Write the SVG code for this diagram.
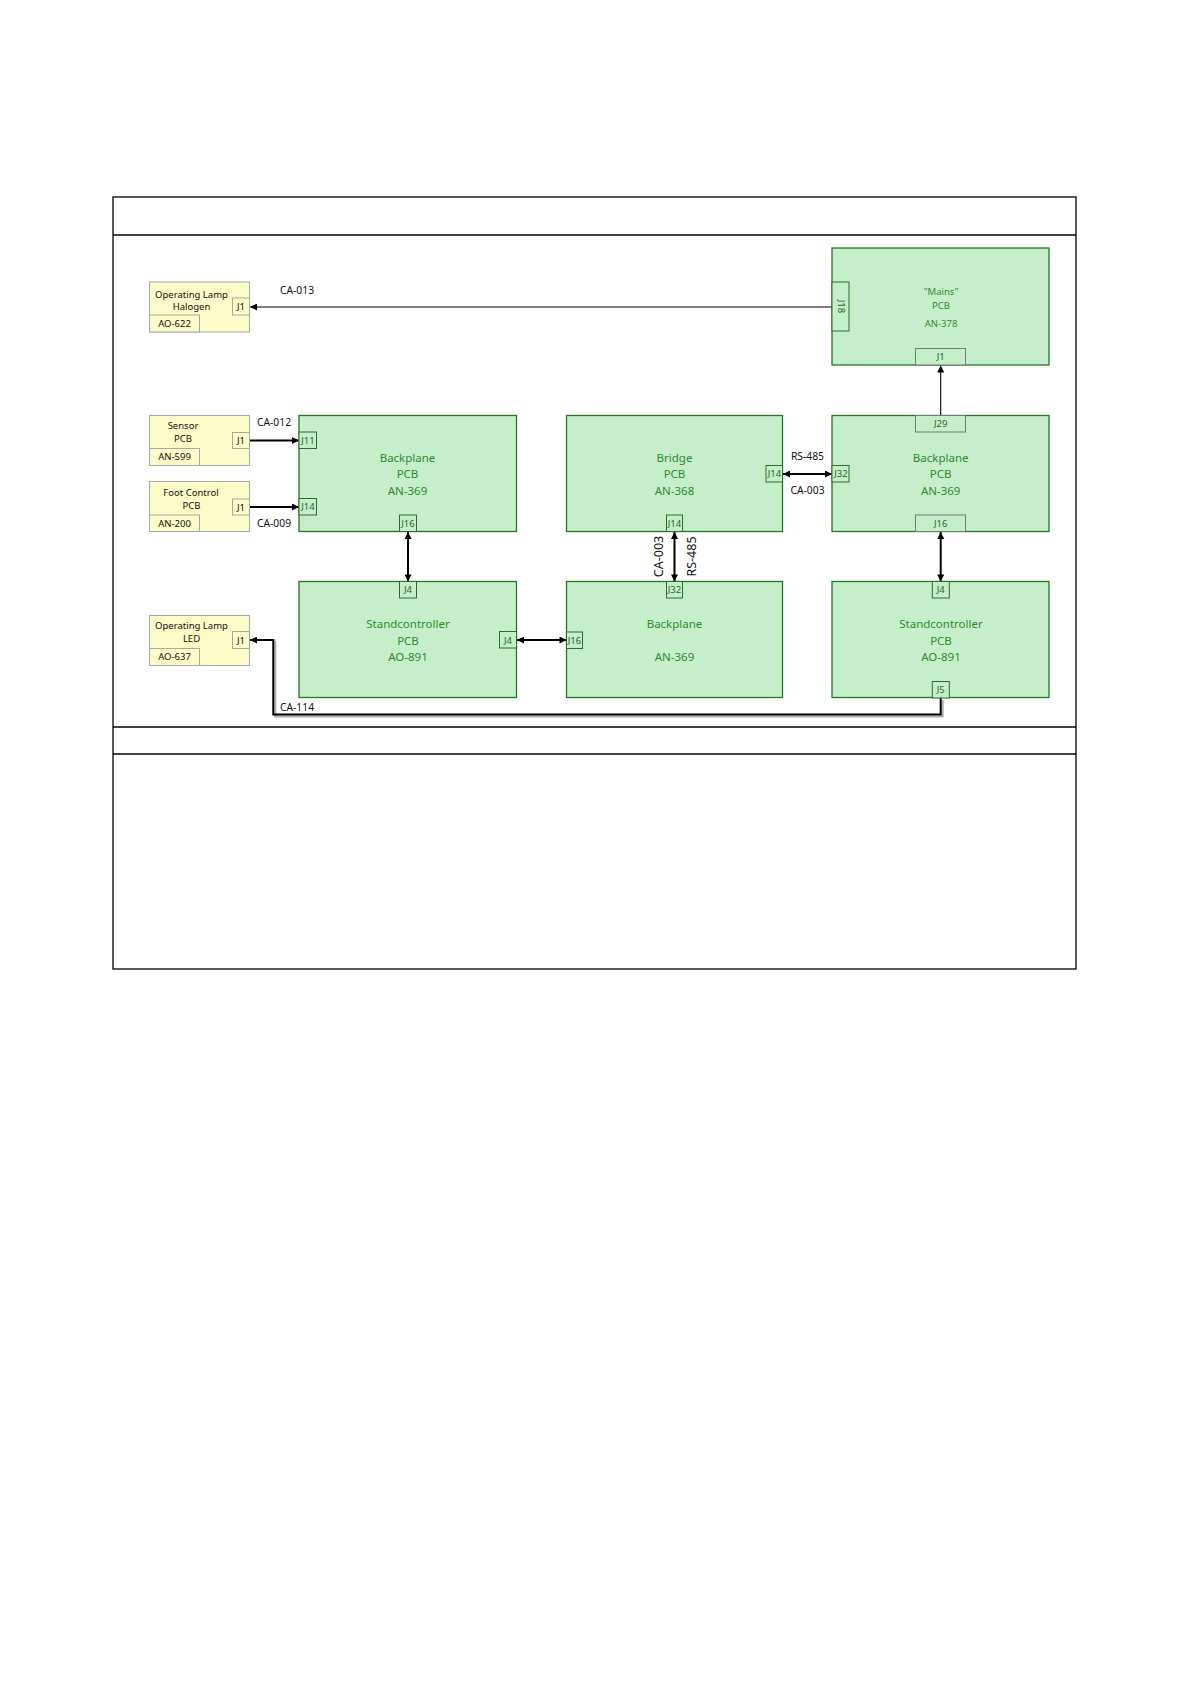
<svg xmlns="http://www.w3.org/2000/svg" width="1191" height="1684" viewBox="0 0 1191 1684">
<style>
.frame{fill:none;stroke:#000;stroke-width:1.3}
.ybox{fill:#fcfcc9;stroke:#a8a8a8;stroke-width:1}
.yport{fill:#fcfcc9;stroke:#a8a8a8;stroke-width:1}
.gbox{fill:#c6eecb;stroke:#1f7a1f;stroke-width:1.3}
.gport{fill:#c6eecb;stroke:#2a6e2a;stroke-width:1}
.gportw{fill:#c6eecb;stroke:#6f7f6f;stroke-width:1}
.yt{font-family:"Noto Sans","Open Sans",sans-serif;font-size:9.5px;fill:#111;text-anchor:middle}
.gt{font-family:"Noto Sans","Open Sans",sans-serif;font-size:11.5px;fill:#2f8a2f;text-anchor:middle}
.gts{font-family:"Noto Sans","Open Sans",sans-serif;font-size:9.5px;fill:#2f8a2f;text-anchor:middle}
.pt{font-family:"Noto Sans","Open Sans",sans-serif;font-size:9.5px;fill:#1f6a1f;text-anchor:middle}
.lbl{font-family:"Noto Sans","Open Sans",sans-serif;font-size:10.3px;fill:#111;text-anchor:middle}
.vlbl{font-family:"Noto Sans","Open Sans",sans-serif;font-size:12.5px;fill:#111;text-anchor:middle}
.c1{fill:none;stroke:#000;stroke-width:1.1}
.c2{fill:none;stroke:#000;stroke-width:2}
</style>
<defs>
<marker id="ah" viewBox="0 0 10 10" refX="10" refY="5" markerWidth="9" markerHeight="7" markerUnits="userSpaceOnUse" orient="auto-start-reverse">
<path d="M0,0 L10,5 L0,10 z" fill="#000"/>
</marker>
</defs>
<rect width="1191" height="1684" fill="#fff"/>
<g id="frame">
<rect class="frame" x="113" y="197" width="963" height="772"/>
<line class="frame" x1="113" y1="235" x2="1076" y2="235"/>
<line class="frame" x1="113" y1="727" x2="1076" y2="727"/>
<line class="frame" x1="113" y1="754" x2="1076" y2="754"/>
</g>
<g id="connectors">
<path d="M942.7,700 V716.5 H275.3 V640.5" fill="none" stroke="#b0b0b0" stroke-width="2"/>
<line class="c1" x1="832" y1="307" x2="250" y2="307" marker-end="url(#ah)"/>
<line class="c1" x1="940.7" y1="415.5" x2="940.7" y2="365.5" marker-end="url(#ah)"/>
<line class="c2" x1="250" y1="440.5" x2="299" y2="440.5" marker-end="url(#ah)"/>
<line class="c2" x1="250" y1="507" x2="299" y2="507" marker-end="url(#ah)"/>
<line class="c2" x1="783" y1="474" x2="832" y2="474" marker-start="url(#ah)" marker-end="url(#ah)"/>
<line class="c2" x1="408" y1="532" x2="408" y2="581.5" marker-start="url(#ah)" marker-end="url(#ah)"/>
<line class="c2" x1="674.5" y1="532" x2="674.5" y2="581.5" marker-start="url(#ah)" marker-end="url(#ah)"/>
<line class="c2" x1="940.7" y1="532" x2="940.7" y2="581.5" marker-start="url(#ah)" marker-end="url(#ah)"/>
<line class="c2" x1="517" y1="640" x2="566.5" y2="640" marker-start="url(#ah)" marker-end="url(#ah)"/>
<path class="c2" d="M940.7,698 V714.5 H273.3 V640 H250" marker-end="url(#ah)"/>
<text class="lbl" x="297" y="293.5">CA-013</text>
<text class="lbl" x="274" y="426">CA-012</text>
<text class="lbl" x="274" y="526.5">CA-009</text>
<text class="lbl" x="807.5" y="460">RS-485</text>
<text class="lbl" x="807.5" y="494">CA-003</text>
<text class="lbl" x="297" y="710.5">CA-114</text>
<text class="vlbl" transform="translate(663,556.5) rotate(-90)">CA-003</text>
<text class="vlbl" transform="translate(696,556.5) rotate(-90)">RS-485</text>
</g>
<g id="halogen">
<rect class="ybox" x="149.5" y="282" width="100" height="50"/>
<rect class="yport" x="232.5" y="298" width="17" height="17"/>
<rect class="yport" x="149.5" y="315" width="50" height="17"/>
<text class="yt" x="191.5" y="297.5">Operating Lamp</text>
<text class="yt" x="191.5" y="310">Halogen</text>
<text class="yt" x="174.5" y="326.5">AO-622</text>
<text class="yt" x="241" y="310">J1</text>
</g>
<g id="sensor">
<rect class="ybox" x="149.5" y="415.5" width="100" height="50"/>
<rect class="yport" x="232.5" y="432.5" width="17" height="16"/>
<rect class="yport" x="149.5" y="448.5" width="50" height="17"/>
<text class="yt" x="183" y="429">Sensor</text>
<text class="yt" x="183" y="442">PCB</text>
<text class="yt" x="174.5" y="460">AN-599</text>
<text class="yt" x="241" y="444">J1</text>
</g>
<g id="footcontrol">
<rect class="ybox" x="149.5" y="481.5" width="100" height="50"/>
<rect class="yport" x="232.5" y="499" width="17" height="16"/>
<rect class="yport" x="149.5" y="515" width="50" height="16.5"/>
<text class="yt" x="191" y="495.5">Foot Control</text>
<text class="yt" x="191.5" y="508.5">PCB</text>
<text class="yt" x="174.5" y="526.5">AN-200</text>
<text class="yt" x="241" y="510.5">J1</text>
</g>
<g id="led">
<rect class="ybox" x="149.5" y="615.5" width="100" height="50"/>
<rect class="yport" x="232.5" y="631.5" width="17" height="17"/>
<rect class="yport" x="149.5" y="648.5" width="50" height="17"/>
<text class="yt" x="191.5" y="629">Operating Lamp</text>
<text class="yt" x="191.5" y="641.5">LED</text>
<text class="yt" x="174.5" y="660">AO-637</text>
<text class="yt" x="241" y="643.5">J1</text>
</g>
<g id="mains">
<rect class="gbox" x="832" y="248" width="217" height="117"/>
<rect class="gport" x="832" y="282" width="17" height="49"/>
<rect class="gportw" x="915.5" y="348.5" width="50" height="16.5"/>
<text class="gts" x="941" y="295">"Mains"</text>
<text class="gts" x="941" y="308.5">PCB</text>
<text class="gts" x="941" y="326.5">AN-378</text>
<text class="pt" transform="translate(837.5,306.5) rotate(90)">J18</text>
<text class="pt" x="940.7" y="360">J1</text>
</g>
<g id="backplane-left">
<rect class="gbox" x="299" y="415.5" width="217.5" height="116"/>
<rect class="gport" x="299" y="432" width="17.5" height="16.5"/>
<rect class="gport" x="299" y="498.5" width="17.5" height="16.5"/>
<rect class="gport" x="399.5" y="515" width="17" height="16.5"/>
<text class="gt" x="407.5" y="461.5">Backplane</text>
<text class="gt" x="407.5" y="478">PCB</text>
<text class="gt" x="407.5" y="494.5">AN-369</text>
<text class="pt" x="308" y="443.5">J11</text>
<text class="pt" x="308" y="510">J14</text>
<text class="pt" x="408" y="526.5">J16</text>
</g>
<g id="bridge">
<rect class="gbox" x="566.5" y="415.5" width="216" height="116"/>
<rect class="gport" x="766" y="465.5" width="16.5" height="16.5"/>
<rect class="gport" x="666.5" y="515" width="16" height="16.5"/>
<text class="gt" x="674.5" y="461.5">Bridge</text>
<text class="gt" x="674.5" y="478">PCB</text>
<text class="gt" x="674.5" y="494.5">AN-368</text>
<text class="pt" x="774.5" y="477">J14</text>
<text class="pt" x="674.5" y="526.5">J14</text>
</g>
<g id="backplane-right">
<rect class="gbox" x="832" y="415.5" width="217" height="116"/>
<rect class="gportw" x="915.5" y="415.5" width="50" height="16.5"/>
<rect class="gport" x="832" y="465.5" width="17" height="16.5"/>
<rect class="gportw" x="915.5" y="515" width="50" height="16.5"/>
<text class="gt" x="940.7" y="461.5">Backplane</text>
<text class="gt" x="940.7" y="478">PCB</text>
<text class="gt" x="940.7" y="494.5">AN-369</text>
<text class="pt" x="940.7" y="427">J29</text>
<text class="pt" x="841" y="477">J32</text>
<text class="pt" x="940.7" y="526.5">J16</text>
</g>
<g id="standcontroller-left">
<rect class="gbox" x="299" y="581.5" width="217.5" height="116"/>
<rect class="gport" x="399.5" y="581.5" width="17" height="16.5"/>
<rect class="gport" x="499.5" y="631.5" width="17" height="16.5"/>
<text class="gt" x="408" y="628">Standcontroller</text>
<text class="gt" x="408" y="644.5">PCB</text>
<text class="gt" x="408" y="661">AO-891</text>
<text class="pt" x="408" y="593">J4</text>
<text class="pt" x="508" y="643.5">J4</text>
</g>
<g id="backplane-mid">
<rect class="gbox" x="566.5" y="581.5" width="216" height="116"/>
<rect class="gport" x="666.5" y="581.5" width="16" height="16.5"/>
<rect class="gport" x="566.5" y="632" width="16" height="16.5"/>
<text class="gt" x="674.5" y="628">Backplane</text>
<text class="gt" x="674.5" y="661">AN-369</text>
<text class="pt" x="674.5" y="593">J32</text>
<text class="pt" x="574.5" y="643.5">J16</text>
</g>
<g id="standcontroller-right">
<rect class="gbox" x="832" y="581.5" width="217" height="116"/>
<rect class="gport" x="932.3" y="581.5" width="17" height="16.5"/>
<rect class="gport" x="932.3" y="681.5" width="17" height="16.5"/>
<text class="gt" x="941" y="628">Standcontroller</text>
<text class="gt" x="941" y="644.5">PCB</text>
<text class="gt" x="941" y="661">AO-891</text>
<text class="pt" x="940.8" y="593">J4</text>
<text class="pt" x="940.8" y="693">J5</text>
</g>
</svg>
